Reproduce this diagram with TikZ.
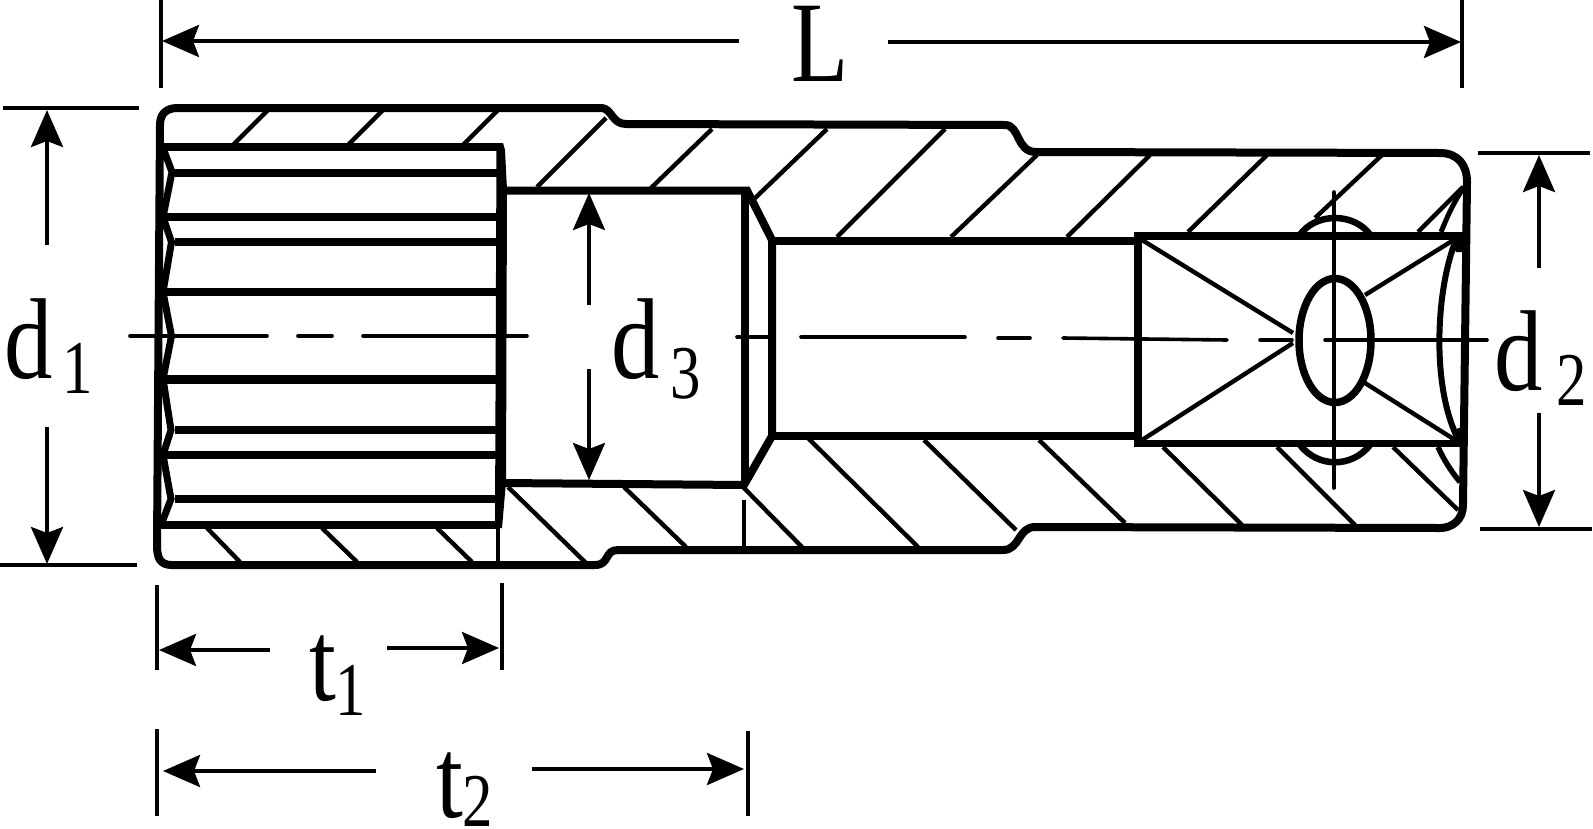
\documentclass[tikz,border=0pt]{standalone}
\usepackage{fontspec}
\setmainfont{Liberation Serif}
\usetikzlibrary{arrows.meta}
\tikzset{
  x=1pt,y=-1pt,
  outline/.style={line width=8pt,line join=round},
  inner/.style={line width=8pt,line join=miter,line cap=butt},
  hatch/.style={line width=4.4pt},
  centre/.style={line width=3.6pt,line cap=round},
  ext/.style={line width=4pt},
  dim/.style={line width=4pt,-{Stealth[length=37pt,width=32pt,inset=6pt]}},
  big/.style={font=\fontsize{115}{115}\selectfont,inner sep=0pt,anchor=base west,xscale=.84,transform shape},
  small/.style={font=\fontsize{76}{76}\selectfont,inner sep=0pt,anchor=base west,xscale=.8,transform shape}
}
\begin{document}
\begin{tikzpicture}
\useasboundingbox (0,0) rectangle (1593,828);
% hatching
\foreach \a/\b/\c/\d in {233/145/268/110,348/145/383/110,463/145/498/110,537/187/606/118,651/188/712/129,753/200/827/129,837/237/945/129,951/237/1037/155,1067/237/1150/155,1188/232/1267/155,1315/218/1382/155,1418/232/1463/187,
 207/528/240/562,322/528/357/562,437/528/472/562,508/487/586/563,624/487/686/547,743/487/802/547,808/438/918/547,924/440/1016/530,1039/440/1125/523,1163/447/1242/525,1277/447/1355/525,1393/447/1458/510}
  \draw[hatch] (\a,\b) -- (\c,\d);
\draw[hatch] (498,527) -- (498,562);
\draw[hatch] (744,500) -- (744,547);
% outline
\draw[outline] (178,108) -- (602,108) .. controls (612,109) and (612,124) .. (626,124) -- (1005,125)
  .. controls (1020,125) and (1016,152) .. (1036,152) -- (1440,153) .. controls (1458,153) and (1467,165) .. (1467,182)
  -- (1463,505) .. controls (1463,520) and (1452,528) .. (1440,528) -- (1035,527)
  .. controls (1018,527) and (1020,550) .. (1003,550) -- (618,550) .. controls (604,550) and (610,565) .. (595,565)
  -- (172,565) .. controls (160,565) and (157,558) .. (157,545) -- (160,125) .. controls (160,113) and (167,108) .. (178,108) -- cycle;
% 12-point socket
\draw[inner] (160,147) -- (500,147);
\draw[inner] (158,525) -- (500,525);
\fill (496.5,143) -- (503,143) -- (505,150) -- (507,190) -- (506,482) -- (502,528) -- (495,528) -- cycle;
\foreach \xa/\yy/\w in {175/173/8,166/217/8,175/242/8,166/292/8,165/379/9,175/430/8,165/455/8,175/499/8}
  \draw[line width=\w pt] (\xa,\yy) -- (500,\yy);
\draw[line width=7pt,line join=miter,miter limit=3] (163,148) -- (172,172) -- (163,217) -- (171.5,242) -- (163,292) -- (171.5,336) -- (163,379) -- (171,430) -- (163,455) -- (171,499) -- (161,525);
% middle bore
\draw[inner] (503,190.5) -- (747,190.5) -- (772,240) -- (772,436) -- (744,485) -- (503,483);
\draw[line width=8pt] (745,188) -- (745,483);
% square bore
\draw[inner] (772,240.5) -- (1138,240.5);
\draw[inner] (772,436) -- (1138,436);
\draw[line width=8pt] (1138,232) -- (1138,447);
\draw[line width=7.5pt] (1134,236) -- (1464,236);
\draw[line width=7.5pt] (1134,443.5) -- (1464,443.5);
\fill (1448,236) -- (1465,236) -- (1465,252) -- (1456,252) -- cycle;
\fill (1448,443) -- (1464,443) -- (1464,428) -- (1458,428) -- cycle;
\foreach \a/\b/\c/\d in {1142/240/1293/333,1142/440/1293/343,1452/241/1365/295,1452/438/1365/383}
  \draw[hatch] (\a,\b) -- (\c,\d);
\draw[line width=6.5pt] (1299,236) .. controls (1315,212) and (1355,212) .. (1371,236);
\draw[line width=6.5pt] (1300,445) .. controls (1318,468) and (1352,468) .. (1370,445);
\draw[line width=7.5pt] (1335,340.5) ellipse (36 and 62);
\draw[line width=6pt] (1454,245) .. controls (1436,295) and (1432,385) .. (1457,437);
\draw[line width=5pt] (1441,232) .. controls (1446,220) and (1452,205) .. (1464,187);
\draw[line width=5.5pt] (1438,447) .. controls (1443,458) and (1450,470) .. (1460,482);
% centre lines
\coordinate (cA) at (130,336); \coordinate (cB) at (267,336);
\coordinate (cC) at (298,336); \coordinate (cD) at (332,336);
\coordinate (cE) at (363,336); \coordinate (cF) at (527,336);
\coordinate (cG) at (737,337); \coordinate (cH) at (770,337);
\coordinate (cI) at (801,337); \coordinate (cJ) at (965,337);
\coordinate (cK) at (998,338); \coordinate (cL) at (1030,338);
\coordinate (cM) at (1063,338); \coordinate (cN) at (1227,340);
\coordinate (cO) at (1260,340); \coordinate (cP) at (1292,340);
\coordinate (cQ) at (1325,340); \coordinate (cR) at (1487,340);
\coordinate (cS) at (1334,192); \coordinate (cT) at (1334,488);
\foreach \p/\q in {cA/cB,cC/cD,cE/cF,cG/cH,cI/cJ,cK/cL,cM/cN,cO/cP,cQ/cR,cS/cT}
  \draw[centre] (\p) -- (\q);
% dimensions
\coordinate (Lta) at (161,0); \coordinate (Ltb) at (161,88);
\coordinate (Lua) at (1462,0); \coordinate (Lub) at (1462,88);
\coordinate (La) at (739,41); \coordinate (Lb) at (162,41);
\coordinate (Lc) at (888,42); \coordinate (Ld) at (1461,42);
\draw[ext] (Lta) -- (Ltb); \draw[ext] (Lua) -- (Lub);
\draw[dim] (La) -- (Lb); \draw[dim] (Lc) -- (Ld);
\node[big,xscale=.97] (tL) at (791,81.5) {L};
% d1
\coordinate (a1) at (3,108); \coordinate (a2) at (139,108);
\coordinate (a3) at (0,565); \coordinate (a4) at (137,565);
\coordinate (a5) at (47,245); \coordinate (a6) at (47,110);
\coordinate (a7) at (47,427); \coordinate (a8) at (47,564);
\draw[ext] (a1) -- (a2); \draw[ext] (a3) -- (a4);
\draw[dim] (a5) -- (a6); \draw[dim] (a7) -- (a8);
\node[big] (td1) at (4,378) {d};
\node[small] (ts1) at (62,393) {1};
% d3
\coordinate (b1) at (589,305); \coordinate (b2) at (589,193);
\coordinate (b3) at (589,369); \coordinate (b4) at (589,480);
\draw[dim] (b1) -- (b2); \draw[dim] (b3) -- (b4);
\node[big] (td3) at (611,378) {d};
\node[small] (ts3) at (670,398) {3};
% d2
\coordinate (c1) at (1478,153); \coordinate (c2) at (1590,153);
\coordinate (c3) at (1480,529); \coordinate (c4) at (1592,529);
\coordinate (c5) at (1539,268); \coordinate (c6) at (1539,155);
\coordinate (c7) at (1539,413); \coordinate (c8) at (1539,527);
\draw[ext] (c1) -- (c2); \draw[ext] (c3) -- (c4);
\draw[dim] (c5) -- (c6); \draw[dim] (c7) -- (c8);
\node[big] (td2) at (1494,390) {d};
\node[small] (ts2) at (1556,405) {2};
% t1
\coordinate (d1) at (156.5,585); \coordinate (d2) at (156.5,670);
\coordinate (d3) at (502,583); \coordinate (d4) at (502,670);
\coordinate (d5) at (270,650); \coordinate (d6) at (159,650);
\coordinate (d7) at (387,648); \coordinate (d8) at (499,648);
\draw[ext] (d1) -- (d2); \draw[ext] (d3) -- (d4);
\draw[dim] (d5) -- (d6); \draw[dim] (d7) -- (d8);
\node[big] (tt1) at (309,700) {t};
\node[small] (tst1) at (335,715) {1};
% t2
\coordinate (e1) at (156.5,729); \coordinate (e2) at (156.5,816);
\coordinate (e3) at (747.5,731); \coordinate (e4) at (747.5,816);
\coordinate (e5) at (376,771); \coordinate (e6) at (163,771);
\coordinate (e7) at (532,769); \coordinate (e8) at (744,769);
\draw[ext] (e1) -- (e2); \draw[ext] (e3) -- (e4);
\draw[dim] (e5) -- (e6); \draw[dim] (e7) -- (e8);
\node[big] (tt2) at (436,817) {t};
\node[small] (tst2) at (462,826) {2};
\end{tikzpicture}
\end{document}
